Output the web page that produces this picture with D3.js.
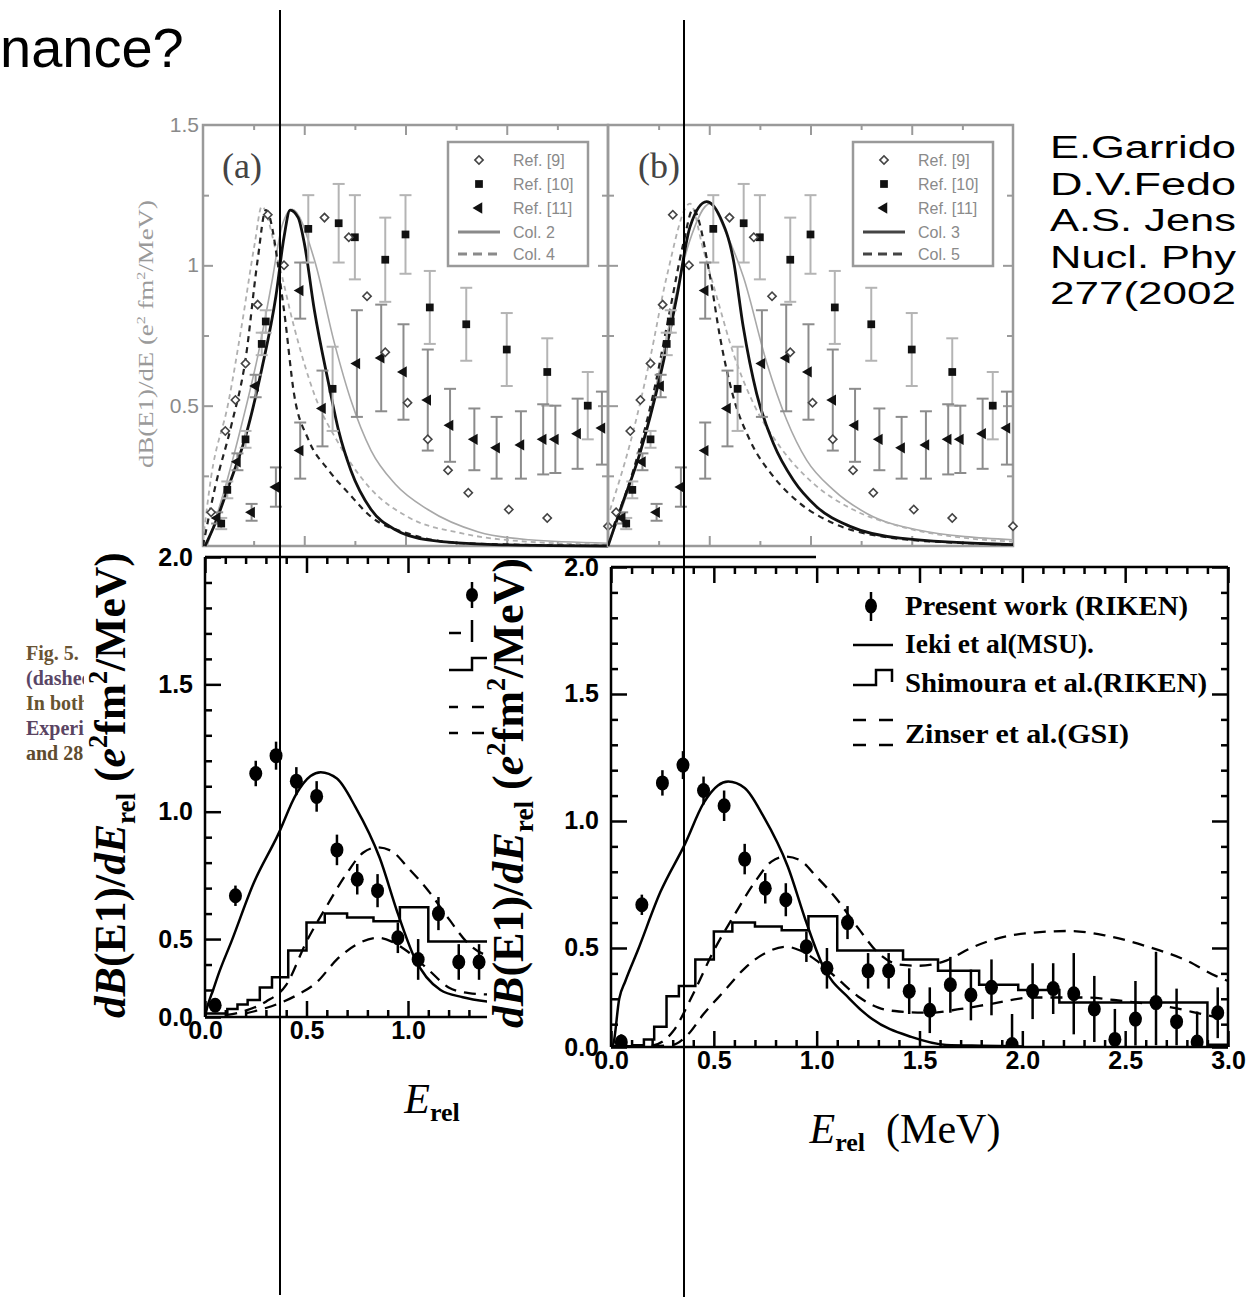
<!DOCTYPE html>
<html>
<head>
<meta charset="utf-8">
<script src="https://cdn.jsdelivr.net/npm/d3@7/dist/d3.min.js"></script>
<style>
  body { margin: 0; background: #fff; }
  svg { display: block; }
</style>
</head>
<body>
<svg id="slide"></svg>
<script>
// ---------- top panels (a) and (b): E (MeV) vs dB(E1)/dE ----------
const ref9 = [[0.04,0.12],[0.11,0.41],[0.16,0.52],[0.21,0.65],[0.27,0.86],[0.32,1.18],[0.40,1.00],[0.60,1.17],[0.72,1.10],[0.81,0.89],[0.90,0.69],[1.01,0.51],[1.11,0.38],[1.21,0.27],[1.31,0.19],[1.51,0.13],[1.70,0.10],[2.00,0.07]];
// [E, value, error]
const ref10 = [[0.09,0.08,0.02],[0.12,0.20,0.03],[0.21,0.38,0.03],[0.29,0.72,0.04],[0.31,0.80,0.04],
  [0.52,1.13,0.12],[0.64,0.56,0.15],[0.67,1.15,0.14],[0.75,1.10,0.15],[0.90,1.02,0.15],[1.00,1.11,0.14],
  [1.12,0.85,0.13],[1.30,0.79,0.13],[1.50,0.70,0.13],[1.70,0.62,0.12],[1.90,0.50,0.12]];
const ref11 = [[0.07,0.10,0.02],[0.17,0.30,0.03],[0.24,0.12,0.03],[0.26,0.57,0.04],[0.36,0.21,0.07],[0.48,0.34,0.10],
  [0.48,0.91,0.10],[0.59,0.49,0.135],[0.76,0.65,0.19],[0.88,0.67,0.19],[0.99,0.62,0.17],[1.11,0.52,0.18],
  [1.22,0.43,0.13],[1.34,0.38,0.11],[1.45,0.35,0.11],[1.57,0.36,0.12],[1.68,0.38,0.125],[1.74,0.38,0.12],
  [1.85,0.40,0.125],[1.97,0.42,0.13]];

const aBlack = [[0.01,0],[0.06,0.08],[0.125,0.21],[0.21,0.39],[0.29,0.63],[0.36,0.89],[0.40,1.10],[0.43,1.197],[0.47,1.17],[0.50,1.08],[0.55,0.84],[0.62,0.58],[0.67,0.41],[0.73,0.27],[0.83,0.13],[0.95,0.058],[1.11,0.022],[1.44,0.005],[2.0,0.0]];
const aGray = [[0.02,0],[0.11,0.21],[0.19,0.43],[0.27,0.675],[0.34,0.94],[0.39,1.14],[0.44,1.2],[0.55,1.02],[0.65,0.72],[0.73,0.52],[0.83,0.34],[0.95,0.22],[1.11,0.13],[1.36,0.05],[1.61,0.022],[2.0,0.01]];
const aDash = [[0.0,0],[0.06,0.21],[0.14,0.43],[0.21,0.665],[0.27,1.02],[0.31,1.197],[0.40,0.84],[0.45,0.54],[0.52,0.38],[0.62,0.27],[0.72,0.187],[0.83,0.104],[1.01,0.045],[1.28,0.01],[2.0,0.0]];
const aDashGray = [[0.0,0.02],[0.04,0.245],[0.125,0.51],[0.19,0.78],[0.256,1.08],[0.29,1.21],[0.37,1.02],[0.45,0.78],[0.55,0.54],[0.67,0.365],[0.82,0.21],[1.01,0.104],[1.28,0.045],[1.61,0.015],[2.0,0.005]];
const bBlack = [[0.0,0],[0.06,0.128],[0.158,0.331],[0.257,0.603],[0.34,0.888],[0.405,1.137],[0.487,1.227],[0.553,1.173],[0.619,1.02],[0.668,0.78],[0.734,0.543],[0.817,0.365],[0.915,0.235],[1.03,0.14],[1.195,0.07],[1.442,0.028],[2.0,0.005]];
const bGray = [[0.0,0],[0.1,0.2],[0.2,0.45],[0.3,0.78],[0.4,1.08],[0.504,1.22],[0.58,1.12],[0.668,0.96],[0.783,0.655],[0.882,0.45],[0.981,0.306],[1.113,0.2],[1.278,0.116],[1.525,0.058],[2.0,0.022]];
const bDash = [[0.026,0.068],[0.125,0.27],[0.224,0.543],[0.306,0.84],[0.372,1.078],[0.42,1.2],[0.504,0.96],[0.553,0.745],[0.619,0.531],[0.701,0.377],[0.817,0.247],[0.948,0.152],[1.113,0.081],[1.36,0.033],[1.77,0.01],[2.0,0.005]];
const bDashGray = [[0.01,0.128],[0.109,0.365],[0.207,0.665],[0.29,0.96],[0.405,1.22],[0.471,1.055],[0.537,0.888],[0.619,0.686],[0.718,0.508],[0.85,0.353],[1.014,0.223],[1.212,0.129],[1.442,0.07],[1.77,0.028],[2.0,0.016]];

const topXMinor = [0.25, 0.75, 1.25, 1.75];
const topXMajor = [0.5, 1, 1.5];
const topYMinor = [0.25, 0.75, 1.25];
const topYMajor = [0.5, 1];
const topYLabels = [0.5, 1, 1.5];
const legendA = ['Ref. [9]', 'Ref. [10]', 'Ref. [11]', 'Col. 2', 'Col. 4'];
const legendB = ['Ref. [9]', 'Ref. [10]', 'Ref. [11]', 'Col. 3', 'Col. 5'];

// ---------- lower panels: E_rel (MeV) vs dB(E1)/dE_rel ----------
const eRel = [0.05,0.15,0.25,0.35,0.45,0.55,0.65,0.75,0.85,0.95,1.05,1.15,1.25,1.35,1.45,1.55,1.65,1.75,1.85,1.95,2.05,2.15,2.25,2.35,2.45,2.55,2.65,2.75,2.85,2.95];
const present = [0.13,0.67,1.15,1.22,1.12,1.06,0.85,0.735,0.69,0.505,0.42,0.60,0.41,0.41,0.33,0.255,0.355,0.315,0.345,0.12,0.33,0.34,0.32,0.26,0.14,0.22,0.285,0.21,0.13,0.245];
const presentErr = [0.03,0.04,0.05,0.055,0.055,0.06,0.06,0.06,0.065,0.06,0.08,0.065,0.07,0.07,0.09,0.09,0.11,0.10,0.11,0.12,0.11,0.10,0.16,0.13,0.12,0.15,0.20,0.13,0.12,0.10];
const ieki = [[0.0,0.0],[0.01,0.10],[0.04,0.30],[0.07,0.37],[0.13,0.49],[0.24,0.72],[0.36,0.91],[0.45,1.07],[0.52,1.14],[0.57,1.155],[0.65,1.13],[0.74,1.02],[0.86,0.82],[0.95,0.60],[1.03,0.43],[1.16,0.30],[1.27,0.22],[1.46,0.15],[1.63,0.10],[1.80,0.06],[2.0,0.03]];
const shimouraEdges = [0,0.11,0.16,0.21,0.27,0.33,0.41,0.50,0.59,0.70,0.83,0.96,1.10,1.42,1.59,1.79,1.98,2.18,2.90,3.0];
const shimoura = [0.04,0.09,0.14,0.19,0.31,0.35,0.455,0.565,0.60,0.585,0.57,0.625,0.49,0.455,0.41,0.355,0.335,0.285,0.11];
const zinserA = [[0.1,0.02],[0.2,0.07],[0.3,0.17],[0.4,0.32],[0.5,0.49],[0.6,0.63],[0.7,0.76],[0.78,0.84],[0.85,0.86],[0.92,0.845],[1.0,0.78],[1.1,0.69],[1.2,0.58],[1.3,0.48],[1.4,0.435],[1.5,0.43],[1.63,0.45],[1.75,0.50],[1.89,0.54],[2.05,0.56],[2.23,0.567],[2.4,0.55],[2.61,0.505],[2.8,0.45],[2.94,0.39],[3.0,0.37]];
const zinserB = [[0.2,0.04],[0.3,0.10],[0.375,0.16],[0.45,0.24],[0.55,0.33],[0.65,0.42],[0.75,0.48],[0.85,0.505],[0.92,0.49],[1.0,0.45],[1.1,0.38],[1.2,0.31],[1.3,0.265],[1.4,0.25],[1.55,0.245],[1.7,0.26],[1.85,0.28],[2.05,0.305],[2.3,0.305],[2.5,0.29],[2.7,0.27],[2.93,0.23],[3.0,0.22]];
const lowXMajor = [0, 0.5, 1.0, 1.5, 2.0, 2.5, 3.0];
const lowYMajor = [0, 0.5, 1.0, 1.5, 2.0];
const legendLow = ['Present work (RIKEN)', 'Ieki et al(MSU).', 'Shimoura et al.(RIKEN)', 'Zinser et al.(GSI)'];

const citation = ['E.Garrido', 'D.V.Fedo', 'A.S. Jens', 'Nucl. Phy', '277(2002'];
const figText = ['Fig. 5.', '(dashed', 'In both', 'Experim', 'and 28'];

// ---------- drawing ----------
const W = 1247, H = 1305;
const svg = d3.select('#slide').attr('width', W).attr('height', H);
svg.append('rect').attr('width', W).attr('height', H).attr('fill', '#fff');
const defs = svg.append('defs');
const SANS = 'Liberation Sans, Arial, sans-serif';
const SERIF = 'Liberation Serif, Times New Roman, serif';

function ticks(g, axis, tr, vals, size, color, width) {
  g.append('g').attr('transform', tr)
    .call(axis.tickValues(vals).tickSize(-size).tickFormat(''))
    .call(s => {
      s.select('.domain').remove();
      s.selectAll('line').attr('stroke', color).attr('stroke-width', width);
    });
}

function topPanel(x0, tag, curves, names, label) {
  const grey = '#9a9a9a';
  const x = d3.scaleLinear().domain([0, 2]).range([x0, x0 + 405]);
  const y = d3.scaleLinear().domain([0, 1.5]).range([546, 125]);
  const g = svg.append('g');

  ticks(g, d3.axisTop(x), 'translate(0,125)', topXMajor, 10, grey, 2);
  ticks(g, d3.axisTop(x), 'translate(0,125)', topXMinor, 5, grey, 2);
  ticks(g, d3.axisBottom(x), 'translate(0,546)', topXMajor, 10, grey, 2);
  ticks(g, d3.axisBottom(x), 'translate(0,546)', topXMinor, 5, grey, 2);
  ticks(g, d3.axisLeft(y), `translate(${x0},0)`, topYMajor, 10, grey, 2);
  ticks(g, d3.axisLeft(y), `translate(${x0},0)`, topYMinor, 6, grey, 2);
  ticks(g, d3.axisRight(y), `translate(${x0 + 405},0)`, topYMajor, 10, grey, 2);
  ticks(g, d3.axisRight(y), `translate(${x0 + 405},0)`, topYMinor, 6, grey, 2);

  g.append('rect').attr('x', x0).attr('y', 125).attr('width', 405).attr('height', 421)
    .attr('fill', 'none').attr('stroke', grey).attr('stroke-width', 2.5);

  defs.append('clipPath').attr('id', 'clip' + tag)
    .append('rect').attr('x', x0).attr('y', 120).attr('width', 405).attr('height', 428);
  const line = d3.line().x(d => x(d[0])).y(d => y(d[1])).curve(d3.curveMonotoneX);
  const cg = g.append('g').attr('clip-path', `url(#clip${tag})`);
  curves.forEach(c => {
    cg.append('path').datum(c.data).attr('d', line).attr('fill', 'none')
      .attr('stroke', c.color).attr('stroke-width', c.width)
      .attr('stroke-dasharray', c.dash || null);
  });

  // error bars
  const eb = (data, color) => data.forEach(d => {
    const xx = x(d[0]), y1 = y(d[1] - d[2]), y2 = y(d[1] + d[2]);
    g.append('line').attr('x1', xx).attr('x2', xx).attr('y1', y1).attr('y2', y2).attr('stroke', color).attr('stroke-width', 2);
    [y1, y2].forEach(yy => g.append('line').attr('x1', xx - 6).attr('x2', xx + 6).attr('y1', yy).attr('y2', yy).attr('stroke', color).attr('stroke-width', 2));
  });
  eb(ref10, '#b4b4b4');
  eb(ref11, '#8c8c8c');

  g.selectAll(null).data(ref10).enter().append('path')
    .attr('d', d3.symbol(d3.symbolSquare, 60))
    .attr('transform', d => `translate(${x(d[0])},${y(d[1])})`).attr('fill', '#111');
  g.selectAll(null).data(ref11).enter().append('path')
    .attr('d', d3.symbol(d3.symbolTriangle, 55))
    .attr('transform', d => `translate(${x(d[0])},${y(d[1])}) rotate(-90)`).attr('fill', '#111');
  g.selectAll(null).data(ref9).enter().append('path')
    .attr('d', d3.symbol(d3.symbolSquare, 34))
    .attr('transform', d => `translate(${x(d[0])},${y(d[1])}) rotate(45)`)
    .attr('fill', '#fff').attr('stroke', '#444').attr('stroke-width', 1.6);

  // legend
  const lx = x0 + 245, ly = 142;
  g.append('rect').attr('x', lx).attr('y', ly).attr('width', 140).attr('height', 124)
    .attr('fill', '#fff').attr('stroke', grey).attr('stroke-width', 2.5);
  const rows = [ly + 18, ly + 42, ly + 66, ly + 90, ly + 112];
  const sx = lx + 31;
  g.append('path').attr('d', d3.symbol(d3.symbolSquare, 34))
    .attr('transform', `translate(${sx},${rows[0]}) rotate(45)`).attr('fill', '#fff').attr('stroke', '#444').attr('stroke-width', 1.6);
  g.append('path').attr('d', d3.symbol(d3.symbolSquare, 60))
    .attr('transform', `translate(${sx},${rows[1]})`).attr('fill', '#111');
  g.append('path').attr('d', d3.symbol(d3.symbolTriangle, 55))
    .attr('transform', `translate(${sx},${rows[2]}) rotate(-90)`).attr('fill', '#111');
  g.append('line').attr('x1', lx + 10).attr('x2', lx + 52).attr('y1', rows[3]).attr('y2', rows[3])
    .attr('stroke', curves[0].legendColor).attr('stroke-width', 3);
  g.append('line').attr('x1', lx + 10).attr('x2', lx + 52).attr('y1', rows[4]).attr('y2', rows[4])
    .attr('stroke', curves[0].legendColor).attr('stroke-width', 3).attr('stroke-dasharray', '9,6');
  names.forEach((n, i) => g.append('text').attr('x', lx + 65).attr('y', rows[i] + 6)
    .attr('font-family', SANS).attr('font-size', 16).attr('fill', '#8a8a8a').text(n));

  g.append('text').attr('x', x0 + (tag === 'a' ? 19 : 30)).attr('y', 178)
    .attr('font-family', SERIF).attr('font-size', 36).attr('fill', '#444').text(label);
  return { x, y };
}

const ta = topPanel(203, 'a', [
  { data: aGray, color: '#a8a8a8', width: 1.6, legendColor: '#8a8a8a' },
  { data: aDashGray, color: '#b0b0b0', width: 1.8, dash: '5,4' },
  { data: aDash, color: '#222', width: 2.2, dash: '6,5' },
  { data: aBlack, color: '#111', width: 2.8 }
], legendA, '(a)');
topPanel(608, 'b', [
  { data: bGray, color: '#a8a8a8', width: 1.6, legendColor: '#444' },
  { data: bDashGray, color: '#b0b0b0', width: 1.8, dash: '5,4' },
  { data: bDash, color: '#222', width: 2.2, dash: '6,5' },
  { data: bBlack, color: '#111', width: 2.8 }
], legendB, '(b)');

// top y labels and title
svg.append('g').selectAll('text').data(topYLabels).enter().append('text')
  .attr('x', 199).attr('y', d => ta.y(d) + 7).attr('text-anchor', 'end')
  .attr('font-family', SANS).attr('font-size', 21).attr('fill', '#8a8a8a')
  .text(d => d);
{
  const t = svg.append('text').attr('font-family', SERIF).attr('font-size', 20).attr('fill', '#9a9a9a');
  t.append('tspan').text('dB(E1)/dE (e');
  t.append('tspan').attr('font-size', 12).attr('dy', -8).text('2');
  t.append('tspan').attr('dy', 8).text(' fm');
  t.append('tspan').attr('font-size', 12).attr('dy', -8).text('2');
  t.append('tspan').attr('dy', 8).text('/MeV)');
  const w = t.node().getBBox().width;
  t.attr('transform', `translate(153,468) rotate(-90) scale(${268 / w},1)`);
}

// citation and title
svg.append('text').attr('x', 0).attr('y', 67)
  .attr('font-family', SANS).attr('font-size', 56).attr('fill', '#000').text('nance?');
svg.append('g').selectAll('text').data(citation).enter().append('text')
  .attr('x', 1050).attr('y', (d, i) => 158 + i * 36.5)
  .attr('font-family', SANS).attr('font-size', 31).attr('fill', '#000')
  .attr('textLength', 186).attr('lengthAdjust', 'spacingAndGlyphs').text(d => d);

// ---------- lower panels ----------
function yTitle(cx, yStart, len, size) {
  const t = svg.append('text').attr('font-family', SERIF).attr('font-weight', 'bold')
    .attr('font-size', size).attr('fill', '#000');
  t.append('tspan').attr('font-style', 'italic').text('dB');
  t.append('tspan').text('(E1)/');
  t.append('tspan').attr('font-style', 'italic').text('dE');
  t.append('tspan').attr('font-size', size * 0.62).attr('dy', size * 0.22).text('rel');
  t.append('tspan').attr('dy', -size * 0.22).text(' (');
  t.append('tspan').attr('font-style', 'italic').text('e');
  t.append('tspan').attr('font-size', size * 0.6).attr('dy', -size * 0.42).text('2');
  t.append('tspan').attr('dy', size * 0.42).text('fm');
  t.append('tspan').attr('font-size', size * 0.6).attr('dy', -size * 0.42).text('2');
  t.append('tspan').attr('dy', size * 0.42).text('/MeV)');
  const w = t.node().getBBox().width;
  t.attr('transform', `translate(${cx},${yStart}) rotate(-90) scale(${len / w},1)`);
}

function xTitle(cx, yb, size, unit) {
  const t = svg.append('text').attr('x', cx).attr('y', yb).attr('text-anchor', 'middle')
    .attr('font-family', SERIF).attr('font-size', size).attr('fill', '#000');
  t.append('tspan').attr('font-style', 'italic').text('E');
  t.append('tspan').attr('font-weight', 'bold').attr('font-size', size * 0.62).attr('dy', size * 0.2).text('rel');
  if (unit) t.append('tspan').attr('dy', -size * 0.2).text('\u2002(MeV)');
}

function lowerPlot(o) {
  const { x, y, left, right, top, bottom, clipRight, tag, minorMin } = o;
  const g = svg.append('g');
  const xMax = x.invert(clipRight);
  const inX = v => v <= xMax + 1e-6;
  const minorX = d3.range(0, 3.001, 0.1).filter(v => inX(v) && Math.abs(v * 2 - Math.round(v * 2)) > 1e-6);
  const minorY = d3.range(0, 2.001, 0.1).filter(v => v > minorMin && Math.abs(v * 2 - Math.round(v * 2)) > 1e-6);
  const majX = lowXMajor.filter(inX);

  ticks(g, d3.axisTop(x), `translate(0,${top})`, majX, 16, '#000', 2.5);
  ticks(g, d3.axisTop(x), `translate(0,${top})`, minorX, 7, '#000', 2.5);
  ticks(g, d3.axisBottom(x), `translate(0,${bottom})`, majX, 16, '#000', 2.5);
  ticks(g, d3.axisBottom(x), `translate(0,${bottom})`, minorX, 7, '#000', 2.5);
  ticks(g, d3.axisLeft(y), `translate(${left},0)`, lowYMajor, 16, '#000', 2.5);
  ticks(g, d3.axisLeft(y), `translate(${left},0)`, minorY, 7, '#000', 2.5);
  if (right) {
    ticks(g, d3.axisRight(y), `translate(${right},0)`, lowYMajor, 16, '#000', 2.5);
    ticks(g, d3.axisRight(y), `translate(${right},0)`, minorY, 7, '#000', 2.5);
  }

  // tick labels
  g.append('g').attr('transform', `translate(${left},0)`)
    .call(d3.axisLeft(y).tickValues(lowYMajor).tickSize(0).tickPadding(12).tickFormat(d3.format('.1f')))
    .call(s => {
      s.select('.domain').remove();
      s.selectAll('text').attr('font-family', SANS).attr('font-weight', 'bold').attr('font-size', 25).attr('fill', '#000');
    });
  g.append('g').attr('transform', `translate(0,${bottom})`)
    .call(d3.axisBottom(x).tickValues(majX).tickSize(0).tickPadding(4).tickFormat(d3.format('.1f')))
    .call(s => {
      s.select('.domain').remove();
      s.selectAll('text').attr('font-family', SANS).attr('font-weight', 'bold').attr('font-size', 25).attr('fill', '#000');
    });

  // frame
  const fr = right || clipRight;
  g.append('line').attr('x1', left).attr('x2', left).attr('y1', top).attr('y2', bottom).attr('stroke', '#000').attr('stroke-width', 2.5);
  g.append('line').attr('x1', left).attr('x2', o.topLineEnd || fr).attr('y1', top).attr('y2', top).attr('stroke', '#000').attr('stroke-width', 2.5);
  g.append('line').attr('x1', left).attr('x2', fr).attr('y1', bottom).attr('y2', bottom).attr('stroke', '#000').attr('stroke-width', 2.5);
  if (right) g.append('line').attr('x1', right).attr('x2', right).attr('y1', top).attr('y2', bottom).attr('stroke', '#000').attr('stroke-width', 2.5);

  defs.append('clipPath').attr('id', 'lc' + tag)
    .append('rect').attr('x', left).attr('y', top).attr('width', clipRight - left).attr('height', bottom - top);
  const cg = g.append('g').attr('clip-path', `url(#lc${tag})`);
  const line = d3.line().x(d => x(d[0])).y(d => y(d[1])).curve(d3.curveMonotoneX);
  const lin = d3.line().x(d => x(d[0])).y(d => y(d[1]));

  // histogram (Shimoura)
  const steps = [];
  shimoura.forEach((v, i) => { steps.push([shimouraEdges[i], v], [shimouraEdges[i + 1], v]); });
  steps.push([shimouraEdges[shimouraEdges.length - 1], 0]);
  cg.append('path').datum(steps).attr('d', lin).attr('fill', 'none').attr('stroke', '#000').attr('stroke-width', 2.5);
  // Ieki
  cg.append('path').datum(ieki).attr('d', line).attr('fill', 'none').attr('stroke', '#000').attr('stroke-width', 2.5);
  const last = ieki[ieki.length - 1];
  cg.append('path').datum([last, [last[0], 0]]).attr('d', lin).attr('fill', 'none').attr('stroke', '#000').attr('stroke-width', 2.5);
  // Zinser
  [zinserA, zinserB].forEach(z => cg.append('path').datum(z).attr('d', line).attr('fill', 'none')
    .attr('stroke', '#000').attr('stroke-width', 2.3).attr('stroke-dasharray', '12,8'));
  // points
  eRel.forEach((e, i) => {
    cg.append('line').attr('x1', x(e)).attr('x2', x(e))
      .attr('y1', y(present[i] - presentErr[i])).attr('y2', y(present[i] + presentErr[i]))
      .attr('stroke', '#000').attr('stroke-width', 2.5);
  });
  cg.selectAll(null).data(eRel).enter().append('ellipse')
    .attr('cx', d => x(d)).attr('cy', (d, i) => y(present[i])).attr('rx', 6.5).attr('ry', 7.5).attr('fill', '#000');
  return g;
}

// lower-left figure (cropped; its lowest strip is squeezed on the slide)
svg.append('rect').attr('x', 0).attr('y', 551).attr('width', 487).attr('height', H - 551).attr('fill', '#fff');
{
  const clip = defs.append('clipPath').attr('id', 'figclip');
  clip.append('rect').attr('x', 0).attr('y', 600).attr('width', 84).attr('height', 200);
  svg.append('g').attr('clip-path', 'url(#figclip)').selectAll('text').data(figText).enter().append('text')
    .attr('x', 26).attr('y', (d, i) => 660 + i * 25)
    .attr('font-family', SERIF).attr('font-weight', 'bold').attr('font-size', 20)
    .attr('fill', (d, i) => ['#6a5434', '#5a4666', '#665430', '#5a4462', '#5e4c2e'][i]).text(d => d);
}
lowerPlot({
  tag: 'L', x: d3.scaleLinear().domain([0, 1]).range([205, 408]),
  y: d3.scaleLinear().domain([0, 0.3, 2]).range([1017, 990, 557]),
  left: 205, right: null, top: 557, bottom: 1017, clipRight: 487, topLineEnd: 816, minorMin: 0.25
});
yTitle(125, 1018, 466, 44);
xTitle(432, 1113, 42, false);
// partial legend of the left figure
{
  const g = svg.append('g').attr('stroke', '#000').attr('stroke-width', 2.5).attr('fill', 'none');
  g.append('line').attr('x1', 472).attr('x2', 472).attr('y1', 582).attr('y2', 608);
  g.append('ellipse').attr('cx', 472).attr('cy', 595).attr('rx', 6).attr('ry', 7).attr('fill', '#000').attr('stroke', 'none');
  g.append('line').attr('x1', 449).attr('x2', 461).attr('y1', 633).attr('y2', 633);
  g.append('line').attr('x1', 472).attr('x2', 472).attr('y1', 620).attr('y2', 642);
  g.append('path').attr('d', 'M449,670H472V658H487');
  [707, 733].forEach(yy => {
    g.append('line').attr('x1', 449).attr('x2', 458).attr('y1', yy).attr('y2', yy);
    g.append('line').attr('x1', 472).attr('x2', 484).attr('y1', yy).attr('y2', yy);
  });
}

// lower-right figure
svg.append('rect').attr('x', 487).attr('y', 560).attr('width', W - 487).attr('height', H - 560).attr('fill', '#fff');
lowerPlot({
  tag: 'R', x: d3.scaleLinear().domain([0, 3]).range([611, 1228]),
  y: d3.scaleLinear().domain([0, 0.12, 2]).range([1047, 1044.5, 567]),
  left: 611, right: 1228, top: 567, bottom: 1047, clipRight: 1228, minorMin: 0.15
});
yTitle(523, 1028, 470, 44);
xTitle(905, 1143, 42, true);
{
  const g = svg.append('g');
  g.append('line').attr('x1', 871).attr('x2', 871).attr('y1', 592).attr('y2', 621).attr('stroke', '#000').attr('stroke-width', 2.5);
  g.append('ellipse').attr('cx', 871).attr('cy', 606).attr('rx', 6).attr('ry', 7.5).attr('fill', '#000');
  g.append('line').attr('x1', 853).attr('x2', 893).attr('y1', 645).attr('y2', 645).attr('stroke', '#000').attr('stroke-width', 2.5);
  g.append('path').attr('d', 'M853,685H876V670H892V682').attr('fill', 'none').attr('stroke', '#000').attr('stroke-width', 2.5);
  [720, 745].forEach(yy => {
    g.append('line').attr('x1', 853).attr('x2', 866).attr('y1', yy).attr('y2', yy).attr('stroke', '#000').attr('stroke-width', 2.5);
    g.append('line').attr('x1', 879).attr('x2', 893).attr('y1', yy).attr('y2', yy).attr('stroke', '#000').attr('stroke-width', 2.5);
  });
  const rowsY = [615, 653, 692, 743], lens = [283, 189, 302, 224];
  legendLow.forEach((n, i) => g.append('text').attr('x', 905).attr('y', rowsY[i])
    .attr('font-family', SERIF).attr('font-weight', 'bold').attr('font-size', 27)
    .attr('textLength', lens[i]).attr('lengthAdjust', 'spacingAndGlyphs').text(n));
}

// hand-drawn vertical marker lines
svg.append('line').attr('x1', 280).attr('x2', 280).attr('y1', 10).attr('y2', 1295).attr('stroke', '#000').attr('stroke-width', 2);
svg.append('line').attr('x1', 684).attr('x2', 684).attr('y1', 20).attr('y2', 1297).attr('stroke', '#000').attr('stroke-width', 2);
</script>
</body>
</html>
